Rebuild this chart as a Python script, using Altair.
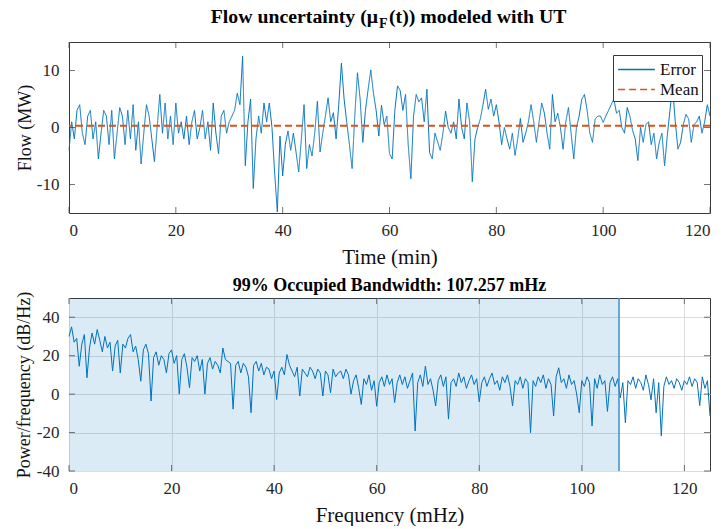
import altair as alt
import pandas as pd
import numpy as np

# ---------------- data ----------------
TIME = [i * 0.5 for i in range(241)]  # minutes, 0 .. 120
ERROR = [
    -4, 1, -2, 3, 4, -1, -3, 2, 3, -2,
    1, -5.5, -1, 3, 2, -3, 3, -5.5, -1, 3.5,
    2, -3, 3, -2, 4, -4, 1, -6.4, -1, 4,
    2, -2, -6, 0, 5.8, -1, 4.3, -2, 2, -3,
    4.3, -1, 1, -2, 2, -3, 1, 3, -2, 0,
    3, -2, 1, -4, 4.3, -1, -4.6, 2, 3, -1,
    1, 2, 3, 6, 4, 12.5, -6.7, 1, 5, -10.7,
    -2, 2, -1, 4.3, 1, 4.3, 0, -8, -14.8, -1.5,
    -8.5, -3, -0.6, -4, -1, -4.3, -7.8, -2, 4, -7.2,
    -3, -5, -1, 4.6, -4.3, -1, 2, 5.2, 1, 2.6,
    -2, 4, 11.3, 5, 0.9, -3, -7.2, 2, 9.6, 5,
    -2.6, 3, 6.7, 10.1, 6, 3, -1.5, 3.9, 0.5, 2,
    -4.6, -5.5, 3, 7.3, 6.5, 3, 5.8, -3, -9, 2,
    5.8, 4.5, 5.2, 1, 6.7, -4.4, -5.5, -1, -2.5, -4,
    -1, 2.9, 0, -1, 1, -2, 5, 0, -2, 4.3,
    1, -9.5, -2, 0, 1.5, 4, 6.7, 3.2, 5, 2,
    4, 1, -3, 0, -2, -3.8, -1, -4.9, -2, 1.6,
    -2.6, -1, 1, 4, 1, -2.6, 1, 4.3, 2.5, -1,
    -3.8, 5.8, 1, 2.5, 0, -3.8, 1, 3.5, -1, -5.5,
    0, 2, 5, 5.8, 3, -1, -2.6, 1.5, 2, 2,
    0.9, 2, 3, 4, 5, 2.5, 3, 0, -1, 3.5,
    2, -0.5, -2, -5.8, 0, -2.6, 0.5, 1, -3, -1,
    -5.5, -2.6, -1, -6.7, -1.5, 3, 7, 1, -3.8, -2.6,
    0.5, 2.3, 1.5, -2.6, 0.5, 1, 2, -1, 1, 4,
    2,
]
FREQ = [i * 0.5 for i in range(251)]  # mHz, 0 .. 125
PSD = [
    30, 35, 27, 29, 14.5, 26, 31, 8.5, 24, 31.8,
    26, 33.6, 28, 22, 30, 24, 27, 12, 25, 28,
    11, 26, 24, 29, 31, 22, 25, 18, 6.7, 23,
    26, 21, -3.6, 19, 22, 15, 20, 18, 11, 21,
    23, 16, 20, 0, 18, 21, 14, 3.3, 19, 17,
    20, 12, 18, 0, 16, 19, 13, 17, 15, 11,
    24, 18, 17, 16, -7.8, 15, 17, 11, 16, 14,
    9, -9.7, 15, 17, 12, 16, 10, 14, 13, 8,
    12, -2.8, 11, 14, 10, 20.6, 15, 12, 9, 14,
    -1, 13, 11, 9, 14, 12, 8, 13, 11, -1,
    12, 10, 0.7, 13, 9, 11, 12, 8, 13, 10,
    0, 7, 10, 3, -5.4, 8, 5, 10, 2, 7,
    -6.3, 6, 9, 4, 10, 5, 8, -4.4, 6, 10,
    5, 9, 3, 7, 11, -19.2, 6, 10, 4, 14.6,
    5, 8, 2, -6.2, 7, 10, 4, 9, -13, 6,
    8, 4, 11, 6, 9, 3, 7, 10, 5, 8,
    -4, 6, 9, 4, 8, 11, 5, 7, 2, 9,
    6, 10, 4, -6.2, 7, 5, 9, 3, 8, 6,
    -20.1, 7, 4, 9, 6, 10, 3, 8, 5, -11.4,
    9, 13.7, 6, 8, 3, 10, 5, 7, 0, -9.7,
    7, 4, 9, 6, -16.6, 8, 3, 10, 5, 7,
    -9, 6, 9, 4, 8, -2, 6, -14.9, 7, 5,
    9, 3, 8, 6, 2, 10, 5, -3, 8, -9.7,
    6, -21.8, 4, 9, 5, 7, 3, 8, 6, 2,
    7, 5, 9, 4, 8, 6, -6, 9, 3, 7,
    -11.4,
]
BANDWIDTH = 107.257
SERIES = ["Error", "Mean"]
TIME_TICKS = [0, 20, 40, 60, 80, 100, 120]
FLOW_TICKS = [-10, 0, 10]
FREQ_TICKS = [0, 20, 40, 60, 80, 100, 120]
PSD_TICKS = [-40, -20, 0, 20, 40]

# ---------------- style ----------------
FONT = "Liberation Serif"
BLUE = "#0072BD"
ORANGE = "#D95319"
BOX = "#3a3a3a"
W, H1, H2 = 641, 171, 173
TDOM = [0, 120]
FDOM = [-15, 15]
QDOM = [0, 125]
PDOM = [-40, 50]
LBL = "'' + datum.value"


def xticks(vals, dom, h, axis):
    base = alt.Chart(pd.DataFrame({"v": vals})).mark_tick(
        orient="vertical", color=BOX, thickness=1, size=6)
    enc = dict(x=alt.X("v:Q", scale=alt.Scale(domain=dom, nice=False), axis=axis))
    return [base.encode(y=alt.value(3), **enc), base.encode(y=alt.value(h - 3), **enc)]


def yticks(vals, dom, w, axis):
    base = alt.Chart(pd.DataFrame({"v": vals})).mark_tick(
        orient="horizontal", color=BOX, thickness=1, size=6)
    enc = dict(y=alt.Y("v:Q", scale=alt.Scale(domain=dom, nice=False), axis=axis))
    return [base.encode(x=alt.value(3), **enc), base.encode(x=alt.value(w - 3), **enc)]


# ---------------- top panel ----------------
err_df = pd.DataFrame({"t": TIME, "v": ERROR, "series": "Error"})
mean_df = pd.DataFrame({"m": [float(np.mean(ERROR))], "series": ["Mean"]})

leg = alt.Legend(title=None, orient="none", legendX=544, legendY=13)
color = alt.Color("series:N", scale=alt.Scale(domain=SERIES, range=[BLUE, ORANGE]), legend=leg)
dash = alt.StrokeDash("series:N", scale=alt.Scale(domain=SERIES, range=[[1, 0], [7, 4]]), legend=leg)

time_axis = alt.Axis(values=TIME_TICKS, labelExpr=LBL, title="Time (min)")
flow_axis = alt.Axis(values=FLOW_TICKS, labelExpr=LBL, title="Flow (MW)", titleX=-35)

err_line = alt.Chart(err_df).mark_line(strokeWidth=1).encode(
    x=alt.X("t:Q", scale=alt.Scale(domain=TDOM, nice=False), axis=time_axis),
    y=alt.Y("v:Q", scale=alt.Scale(domain=FDOM, nice=False), axis=flow_axis),
    color=color, strokeDash=dash,
)
mean_rule = alt.Chart(mean_df).mark_rule(strokeWidth=2).encode(
    y=alt.Y("m:Q", scale=alt.Scale(domain=FDOM, nice=False), axis=flow_axis),
    color=color, strokeDash=dash,
)

TS = 19.8
title_left = alt.Chart(pd.DataFrame({"s": ["Flow uncertainty (\u03bc"]})).mark_text(
    align="right", baseline="alphabetic", font=FONT, fontSize=TS, fontWeight="bold", color="black"
).encode(text="s:N", x=alt.value(309), y=alt.value(-19))
title_sub = alt.Chart(pd.DataFrame({"s": ["F"]})).mark_text(
    align="left", baseline="alphabetic", font=FONT, fontSize=14, fontWeight="bold", color="black"
).encode(text="s:N", x=alt.value(310), y=alt.value(-14))
title_right = alt.Chart(pd.DataFrame({"s": ["(t)) modeled with UT"]})).mark_text(
    align="left", baseline="alphabetic", font=FONT, fontSize=TS, fontWeight="bold", color="black"
).encode(text="s:N", x=alt.value(320), y=alt.value(-19))

top = alt.layer(
    err_line, mean_rule,
    *xticks(TIME_TICKS, TDOM, H1, time_axis), *yticks(FLOW_TICKS, FDOM, W, flow_axis),
    title_left, title_sub, title_right,
).properties(width=W, height=H1)

# ---------------- bottom panel ----------------
psd_df = pd.DataFrame({"f": FREQ, "p": PSD})
band_df = pd.DataFrame({"a": [0.0], "b": [BANDWIDTH]})

freq_axis = alt.Axis(values=FREQ_TICKS, labelExpr=LBL, title="Frequency (mHz)", grid=True)
psd_axis = alt.Axis(values=PSD_TICKS, labelExpr=LBL, title="Power/frequency (dB/Hz)", grid=True,
                    titleX=-36)

band = alt.Chart(band_df).mark_rect(color=BLUE, opacity=0.14).encode(
    x=alt.X("a:Q", scale=alt.Scale(domain=QDOM, nice=False), axis=freq_axis),
    x2="b:Q",
)
edge = alt.Chart(band_df).mark_rule(color="#3d8fcc", strokeWidth=1.5).encode(
    x=alt.X("b:Q", scale=alt.Scale(domain=QDOM, nice=False), axis=freq_axis),
)
psd_line = alt.Chart(psd_df).mark_line(color=BLUE, strokeWidth=1).encode(
    x=alt.X("f:Q", scale=alt.Scale(domain=QDOM, nice=False), axis=freq_axis),
    y=alt.Y("p:Q", scale=alt.Scale(domain=PDOM, nice=False), axis=psd_axis),
)

bottom = alt.layer(
    band, psd_line, edge,
    *xticks(FREQ_TICKS, QDOM, H2, freq_axis), *yticks(PSD_TICKS, PDOM, W, psd_axis),
).properties(
    width=W, height=H2,
    title=alt.TitleParams("99% Occupied Bandwidth: 107.257 mHz", font=FONT, fontSize=18,
                          fontWeight="bold", color="black", anchor="middle", offset=-4),
)

chart = alt.vconcat(top, bottom, spacing=8).properties(
    padding={"left": 14, "top": 6, "right": 0, "bottom": 0}
).configure_view(
    stroke=BOX, strokeWidth=1
).configure_axis(
    domain=False, ticks=False, grid=False, gridColor="#dcdcdc", gridWidth=1,
    labelFont=FONT, labelFontSize=17, labelColor="#262626",
    titleFont=FONT, titleFontSize=18, titleFontWeight="normal", titleColor="#111111",
).configure_axisX(
    labelPadding=9, titlePadding=8, titleFontSize=21,
).configure_axisY(
    labelPadding=10, titlePadding=4,
).configure_legend(
    fillColor="white", strokeColor=BOX, padding=3, labelFont=FONT, labelFontSize=17,
    labelColor="#111111", symbolType="M-1.75,0H1.75", symbolSize=441, symbolStrokeWidth=1.5,
    symbolOffset=9, rowPadding=0, labelOffset=12,
)

chart.save("out.html", embed_options={"renderer": "svg", "actions": False})
